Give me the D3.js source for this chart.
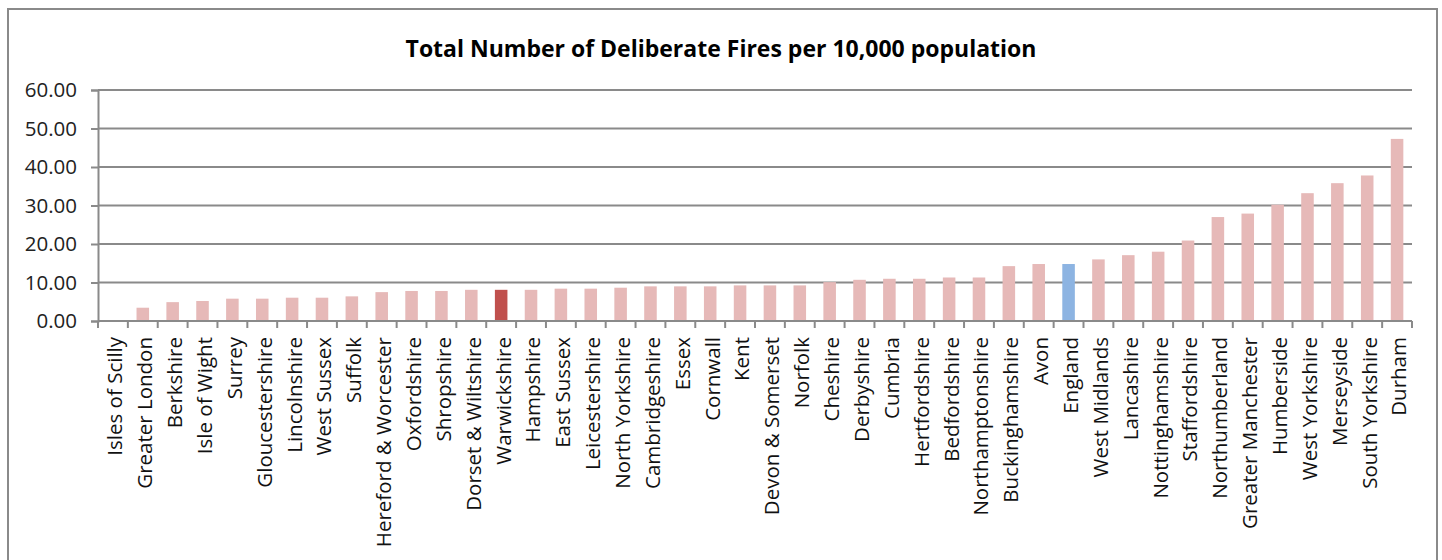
<!DOCTYPE html>
<html>
<head>
<meta charset="utf-8">
<script src="https://cdn.jsdelivr.net/npm/d3@7"></script>
<style>
  body { margin: 0; background: #fff; }
  svg { display: block; font-family: "Open Sans", Lato, sans-serif; }
</style>
</head>
<body>
<svg id="chart"></svg>
<script>
// categories (fire and rescue areas), sorted by value
var areas = ["Isles of Scilly", "Greater London", "Berkshire", "Isle of Wight", "Surrey",
  "Gloucestershire", "Lincolnshire", "West Sussex", "Suffolk", "Hereford & Worcester",
  "Oxfordshire", "Shropshire", "Dorset & Wiltshire", "Warwickshire", "Hampshire",
  "East Sussex", "Leicestershire", "North Yorkshire", "Cambridgeshire", "Essex",
  "Cornwall", "Kent", "Devon & Somerset", "Norfolk", "Cheshire", "Derbyshire",
  "Cumbria", "Hertfordshire", "Bedfordshire", "Northamptonshire", "Buckinghamshire",
  "Avon", "England", "West Midlands", "Lancashire", "Nottinghamshire", "Staffordshire",
  "Northumberland", "Greater Manchester", "Humberside", "West Yorkshire", "Merseyside",
  "South Yorkshire", "Durham"];

// deliberate fires per 10,000 population
var fires = [0, 3.45, 4.9, 5.2, 5.8, 5.8, 6.05, 6.05, 6.4, 7.5,
  7.8, 7.8, 8.1, 8.1, 8.1, 8.4, 8.4, 8.65, 9.0, 9.0,
  9.0, 9.25, 9.25, 9.25, 10.1, 10.7, 10.97, 10.97, 11.3, 11.3,
  14.25, 14.8, 14.8, 16.0, 17.1, 18.0, 20.9, 27.0, 27.9, 30.2,
  33.2, 35.8, 37.8, 47.3];

var yTicks = [0, 10, 20, 30, 40, 50, 60];

var width = 1442,
    height = 560;

// plot area
var plotLeft = 98, plotRight = 1412,
    plotTop = 90, plotBottom = 321;

var svg = d3.select("#chart")
  .attr("width", width)
  .attr("height", height);

// outer chart frame
svg.append("rect")
  .attr("x", 8)
  .attr("y", 9)
  .attr("width", 1429)
  .attr("height", 600)
  .attr("fill", "#fff")
  .attr("stroke", "#8a8a8a")
  .attr("stroke-width", 2);

// title
svg.append("text")
  .attr("x", 721)
  .attr("y", 57)
  .attr("text-anchor", "middle")
  .attr("font-size", 23)
  .attr("font-weight", "bold")
  .attr("fill", "#000")
  .text("Total Number of Deliberate Fires per 10,000 population");

var x = d3.scaleBand()
  .domain(areas)
  .range([plotLeft, plotRight])
  .paddingInner(0.58)
  .paddingOuter(0.29);

var y = d3.scaleLinear()
  .domain([0, 60])
  .range([plotBottom, plotTop]);

// gridlines
svg.append("g")
  .selectAll("line")
  .data(yTicks)
  .enter().append("line")
  .attr("x1", plotLeft)
  .attr("x2", plotRight)
  .attr("y1", function(d) { return y(d); })
  .attr("y2", function(d) { return y(d); })
  .attr("stroke", "#8a8a8a")
  .attr("stroke-width", 2);

// y axis
var yAxis = svg.append("g")
  .attr("transform", "translate(" + plotLeft + ",0)")
  .call(d3.axisLeft(y).tickValues(yTicks).tickSize(7).tickPadding(14)
    .tickFormat(function(d) { return d3.format(".2f")(d); }));
yAxis.select(".domain").attr("stroke", "#8a8a8a").attr("stroke-width", 2);
yAxis.selectAll(".tick line").attr("stroke", "#8a8a8a").attr("stroke-width", 2);
yAxis.selectAll(".tick text")
  .attr("font-size", 20.5)
  .attr("font-family", "'Open Sans', sans-serif")
  .attr("fill", "#222");

// bars
svg.append("g")
  .selectAll("rect")
  .data(fires)
  .enter().append("rect")
  .attr("x", function(d, i) { return x(areas[i]); })
  .attr("y", function(d) { return y(d); })
  .attr("width", x.bandwidth())
  .attr("height", function(d) { return y(0) - y(d); })
  .attr("fill", function(d, i) {
    if (areas[i] == "Warwickshire") return "#c0504d";
    if (areas[i] == "England") return "#8db4e2";
    return "#e6b9b8";
  });

// x axis line + ticks at category boundaries
var bounds = d3.range(areas.length + 1).map(function(i) { return plotLeft + i * x.step(); });
svg.append("line")
  .attr("x1", plotLeft).attr("x2", plotRight)
  .attr("y1", plotBottom).attr("y2", plotBottom)
  .attr("stroke", "#8a8a8a")
  .attr("stroke-width", 2);
svg.append("g")
  .selectAll("line")
  .data(bounds)
  .enter().append("line")
  .attr("x1", function(d) { return d; })
  .attr("x2", function(d) { return d; })
  .attr("y1", plotBottom)
  .attr("y2", plotBottom + 7)
  .attr("stroke", "#8a8a8a")
  .attr("stroke-width", 2);

// rotated category labels
svg.append("g")
  .selectAll("text")
  .data(areas)
  .enter().append("text")
  .attr("transform", function(d) {
    return "translate(" + (x(d) + x.bandwidth() / 2 + 2) + "," + 337 + ") rotate(-90)";
  })
  .attr("dy", "0.36em")
  .attr("text-anchor", "end")
  .attr("font-size", 20.5)
  .attr("fill", "#111")
  .text(function(d) { return d; });
</script>
</body>
</html>
